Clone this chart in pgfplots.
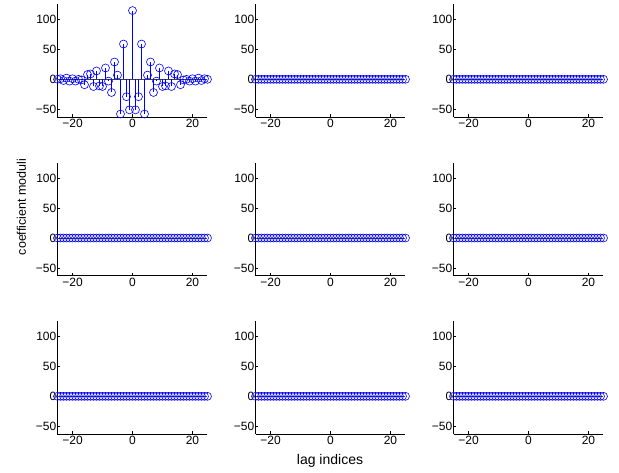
\documentclass[border=0pt]{standalone}
\usepackage{fontspec}
\setmainfont{Liberation Sans}
\usepackage{pgfplots}
\pgfplotsset{compat=1.18}
\usepackage{pgfplotstable}

% lag coefficients of the first block
\pgfplotstableread{
lag coef
-25 0
-24 1
-23 -2
-22 2
-21 -3
-20 1
-19 -3
-18 0
-17 -1
-16 -9
-15 8
-14 9
-13 -12
-12 14
-11 -11
-10 -12
-9 19
-8 -3
-7 -22
-6 29
-5 7
-4 -58
-3 59
-2 -29
-1 -51
0 115
1 -51
2 -29
3 59
4 -58
5 7
6 29
7 -22
8 -3
9 19
10 -12
11 -11
12 14
13 -12
14 9
15 8
16 -9
17 -1
18 0
19 -3
20 1
21 -3
22 2
23 -2
24 1
25 0
}\firstlag

% all other blocks are zero
\pgfplotstableread{
lag coef
-25 0
-24 0
-23 0
-22 0
-21 0
-20 0
-19 0
-18 0
-17 0
-16 0
-15 0
-14 0
-13 0
-12 0
-11 0
-10 0
-9 0
-8 0
-7 0
-6 0
-5 0
-4 0
-3 0
-2 0
-1 0
0 0
1 0
2 0
3 0
4 0
5 0
6 0
7 0
8 0
9 0
10 0
11 0
12 0
13 0
14 0
15 0
16 0
17 0
18 0
19 0
20 0
21 0
22 0
23 0
24 0
25 0
}\zerolag

\pgfplotsset{
  panel/.style={
    anchor=south west,
    scale only axis, width=150pt, height=113pt,
    xmin=-25, xmax=25, ymin=-63, ymax=126,
    xtick={-20,0,20}, xticklabels={−20,0,20},
    ytick={-50,0,50,100}, yticklabels={−50,0,50,100},
    axis x line*=bottom, axis y line*=left,
    tick align=inside, major tick length=2.5pt,
    tick style={black, thin},
    axis line style={black, thin},
    tick label style={font=\fontsize{12}{14}\selectfont},
    yticklabel style={inner xsep=1pt},
    xticklabel style={inner ysep=2pt},
    clip=false,
  },
  stems/.style={blue, ycomb, mark=o, mark size=4pt, line width=0.6pt},
}

\begin{document}
\begin{tikzpicture}
\path[use as bounding box] (0,0) rectangle (619pt,473pt);

\begin{axis}[panel, at={(57.5pt,356pt)}]
  \addplot[black!75, line width=0.6pt, forget plot] coordinates {(-25,0) (25,0)};
  \addplot[stems] table[x=lag, y=coef] {\firstlag};
\end{axis}

\foreach \px/\py in {255.5/356, 453.5/356, 57.5/197.3, 255.5/197.3, 453.5/197.3, 57.5/39, 255.5/39, 453.5/39} {
  \begin{axis}[panel, at={(\px pt,\py pt)}]
    \addplot[black!75, line width=0.6pt, forget plot] coordinates {(-25,0) (25,0)};
    \addplot[stems] table[x=lag, y=coef] {\zerolag};
  \end{axis}
}

\node[rotate=90, font=\fontsize{12.5}{14}\selectfont] at (21.5pt,266pt) {coefficient moduli};
\node[font=\fontsize{14}{16}\selectfont] at (330pt,12.3pt) {lag indices};
\end{tikzpicture}
\end{document}
